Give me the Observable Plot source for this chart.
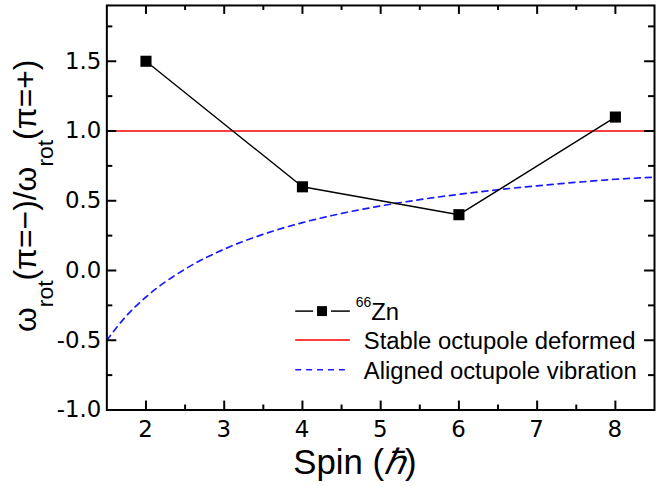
<!DOCTYPE html>
<html><head><meta charset="utf-8">
<script src="https://cdn.jsdelivr.net/npm/d3@7"></script>
<script src="https://cdn.jsdelivr.net/npm/@observablehq/plot@0.6"></script>
<style>body{margin:0;overflow:hidden;background:#fff} svg{display:block}</style>
</head><body><div id="chart"></div>
<script>
// Data
const spins = [2, 4, 6, 8];
const ratios = [1.5, 0.6, 0.4, 1.1];
const stableLevel = [1.0];
const vibSpin = [1.5, 1.75, 2.0, 2.5, 3.0, 3.5, 4.0, 4.5, 5.0, 5.5, 6.0, 6.5, 7.0, 7.5, 8.0, 8.5];
const vibRatio = [-0.5, -0.325, -0.19, 0.01, 0.153, 0.26, 0.343, 0.409, 0.463, 0.508, 0.546, 0.579, 0.607, 0.632, 0.654, 0.668];
const xMajor = [2, 3, 4, 5, 6, 7, 8];
const xMinor = [2.5, 3.5, 4.5, 5.5, 6.5, 7.5];
const yMajor = [-1.0, -0.5, 0.0, 0.5, 1.0, 1.5];
const yMinor = [-0.75, -0.25, 0.25, 0.75, 1.25, 1.75];
const legendLabels = ["Zn", "Stable octupole deformed", "Aligned octupole vibration"];
const xTitle = "Spin (";

const zn = spins.map((s, i) => ({spin: s, ratio: ratios[i]}));
const vib = vibSpin.map((s, i) => ({spin: s, ratio: vibRatio[i]}));

const W = 660, H = 486, ML = 107, MR = 2, MT = 5, MB = 74;
const IW = W - ML - MR, IH = H - MT - MB;
const font = "'Liberation Sans', Arial, sans-serif";
const tickFont = "'DejaVu Sans', 'Liberation Sans', sans-serif";

const chart = Plot.plot({
  width: W, height: H,
  marginLeft: ML, marginRight: MR, marginTop: MT, marginBottom: MB,
  style: {fontFamily: font, background: "white", color: "black"},
  x: {domain: [1.5, 8.5], axis: null},
  y: {domain: [-1.0, 1.9], axis: null},
  marks: [
    Plot.ruleY(stableLevel, {y: d => d, stroke: "#ff0000", strokeWidth: 1.6}),
    Plot.line(vib, {x: "spin", y: "ratio", stroke: "#1a1aff", strokeWidth: 1.7, strokeDasharray: "6,5", curve: "monotone-x", clip: true}),
    Plot.line(zn, {x: "spin", y: "ratio", stroke: "black", strokeWidth: 1.4}),
    Plot.dot(zn, {x: "spin", y: "ratio", symbol: "square", r: 6.3, fill: "black", stroke: null}),
    // ticks (inward)
    Plot.tickX(xMajor, {x: d => d, insetTop: IH - 9, stroke: "black", strokeWidth: 2}),
    Plot.tickX(xMinor, {x: d => d, insetTop: IH - 5, stroke: "black", strokeWidth: 2}),
    Plot.tickX(xMajor, {x: d => d, insetBottom: IH - 9, stroke: "black", strokeWidth: 2}),
    Plot.tickX(xMinor, {x: d => d, insetBottom: IH - 5, stroke: "black", strokeWidth: 2}),
    Plot.tickY(yMajor, {y: d => d, insetRight: IW - 10, stroke: "black", strokeWidth: 2}),
    Plot.tickY(yMinor, {y: d => d, insetRight: IW - 6, stroke: "black", strokeWidth: 2}),
    Plot.tickY(yMajor, {y: d => d, insetLeft: IW - 10, stroke: "black", strokeWidth: 2}),
    Plot.tickY(yMinor, {y: d => d, insetLeft: IW - 6, stroke: "black", strokeWidth: 2}),
    Plot.frame({stroke: "black", strokeWidth: 2})
  ]
});
document.getElementById("chart").appendChild(chart);

const svg = d3.select(chart);
const xs = chart.scale("x"), ys = chart.scale("y");
const g = svg.append("g").attr("font-family", font).attr("fill", "black").attr("text-anchor", "start");

// Tick labels, placed with Plot's own scales
const tl = svg.append("g").attr("font-family", tickFont).attr("fill", "black").style("font-size", "23px");
xMajor.forEach(d => {
  tl.append("text").attr("x", xs.apply(d)).attr("y", H - MB + 28).attr("text-anchor", "middle")
    .style("font-size", "23px").text(String(d));
});
yMajor.forEach(d => {
  tl.append("text").attr("x", ML - 5).attr("y", ys.apply(d) + 8).attr("text-anchor", "end")
    .style("font-size", "23px").text(d.toFixed(1));
});

// Y title with subscripts
const yt = g.append("text")
  .attr("transform", "translate(36,197) rotate(-90)")
  .attr("text-anchor", "middle")
  .attr("font-size", 32);
function omegaRot(t) {
  t.append("tspan").text("ω");
  t.append("tspan").attr("font-size", 23).attr("dy", 17).text("rot");
}
omegaRot(yt);
yt.append("tspan").attr("dy", -17).text("(π=−)/");
omegaRot(yt);
yt.append("tspan").attr("dy", -17).text("(π=+)");

// X title
const xt = g.append("text").attr("x", 295).attr("y", 477).attr("font-size", 35);
xt.append("tspan").text(xTitle);
xt.append("tspan").attr("font-style", "italic").text("ℏ");
xt.append("tspan").text(")");

// Legend
const lx0 = 297, lx1 = 352;
const rows = [313, 342, 372];
g.append("line").attr("x1", lx0).attr("x2", 315).attr("y1", rows[0]).attr("y2", rows[0]).attr("stroke", "black").attr("stroke-width", 1.5);
g.append("line").attr("x1", 333).attr("x2", lx1).attr("y1", rows[0]).attr("y2", rows[0]).attr("stroke", "black").attr("stroke-width", 1.5);
g.append("rect").attr("x", 319).attr("y", rows[0] - 5).attr("width", 10).attr("height", 10).attr("fill", "black");
const t1 = g.append("text").attr("x", 358).attr("y", rows[0] + 8.5).attr("font-size", 24);
t1.append("tspan").attr("font-size", 14).attr("dy", -13).text("66");
t1.append("tspan").attr("dy", 13).text(legendLabels[0]);

g.append("line").attr("x1", lx0).attr("x2", lx1).attr("y1", rows[1]).attr("y2", rows[1]).attr("stroke", "#ff0000").attr("stroke-width", 1.5);
g.append("text").attr("x", 366).attr("y", rows[1] + 9).attr("font-size", 24).text(legendLabels[1]);

g.append("line").attr("x1", lx0).attr("x2", lx1).attr("y1", rows[2]).attr("y2", rows[2]).attr("stroke", "#1a1aff").attr("stroke-width", 1.5).attr("stroke-dasharray", "6,5");
g.append("text").attr("x", 366).attr("y", rows[2] + 9).attr("font-size", 24).text(legendLabels[2]);
</script>
</body></html>
